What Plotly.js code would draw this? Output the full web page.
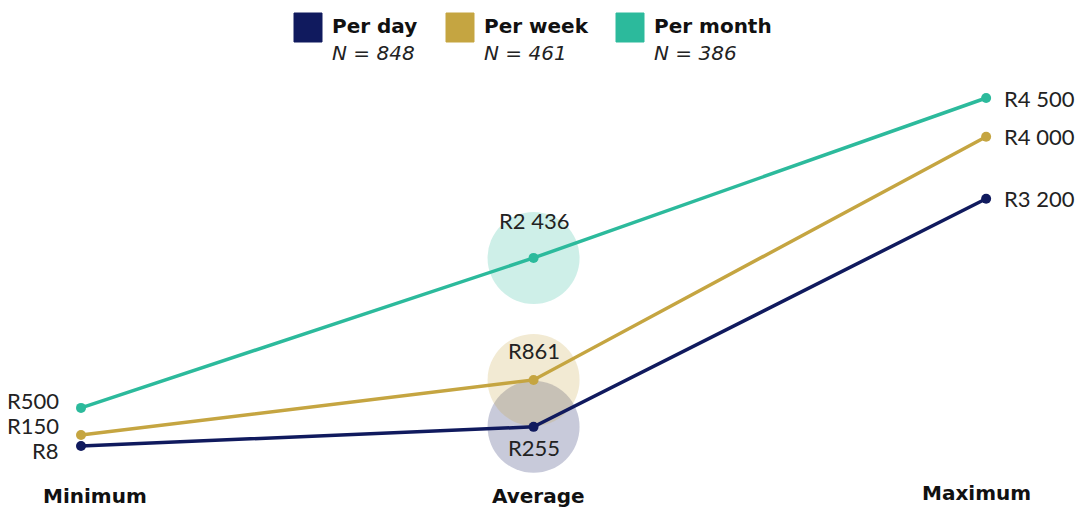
<!DOCTYPE html>
<html>
<head>
<meta charset="utf-8">
<script src="https://cdn.plot.ly/plotly-3.0.1.min.js"></script>
<style>
  html, body { margin: 0; padding: 0; background: #fff; }
  #chart { width: 1078px; height: 510px; }
</style>
</head>
<body>
<div id="chart"></div>
<script>
// Spending amounts (Rand) by frequency of payment
const categories = ['Minimum', 'Average', 'Maximum'];
const seriesNames = ['Per day', 'Per week', 'Per month'];
const sampleSizes = [848, 461, 386];
const perDay = [8, 255, 3200];
const perWeek = [150, 861, 4000];
const perMonth = [500, 2436, 4500];

const seriesValues = [perDay, perWeek, perMonth];
const colors = ['#101A5E', '#C5A541', '#2CBA9C'];
const FONT = 'Century Gothic, "URW Gothic", Lato, sans-serif';
const HEAD_FONT = 'Century Gothic, "DejaVu Sans", sans-serif';
const W = 1078, H = 510;

function rand(v) {
  return 'R' + String(v).replace(/\B(?=(\d{3})+(?!\d))/g, ' ');
}

const traces = [];
// Soft halo behind each average point
seriesValues.forEach((vals, s) => {
  traces.push({
    type: 'scatter', mode: 'markers',
    x: [categories[1]], y: [vals[1]],
    marker: { size: 92, color: colors[s], opacity: 0.23, line: { width: 0 } },
    hoverinfo: 'skip', showlegend: false, cliponaxis: false
  });
});
seriesValues.forEach((vals, s) => {
  traces.push({
    type: 'scatter', mode: 'lines+markers', name: seriesNames[s],
    x: categories, y: vals,
    line: { color: colors[s], width: 3.5 },
    marker: { color: colors[s], size: 10 },
    showlegend: false, cliponaxis: false
  });
});

// Label placement per series/category: [xanchor, xshift, yshift]
const labelPlace = [
  [['right', -20, -4], ['center', 0, -21], ['left', 16, 0]],
  [['right', -20, 10], ['center', 0, 29], ['left', 16, 0]],
  [['right', -20, 7], ['center', 0, 37], ['left', 16, 0]]
];

const annotations = [];
seriesValues.forEach((vals, s) => {
  vals.forEach((v, i) => {
    const p = labelPlace[s][i];
    annotations.push({
      x: categories[i], y: v, xref: 'x', yref: 'y',
      text: rand(v), showarrow: false,
      xanchor: p[0], yanchor: 'middle', xshift: p[1], yshift: p[2],
      font: { family: FONT, size: 22, color: '#222' }
    });
  });
});

// Category names along the bottom
const catPos = [[95, 496], [538, 496], [976, 493]];
categories.forEach((c, i) => {
  annotations.push({
    x: catPos[i][0] / W, y: 1 - catPos[i][1] / H, xref: 'paper', yref: 'paper',
    text: '<b>' + c + '</b>', showarrow: false, xanchor: 'center', yanchor: 'middle',
    font: { family: HEAD_FONT, size: 20, color: '#111' }
  });
});

// Legend: colour square, bold name, italic sample size
const legendX = [294, 446, 616];
const shapes = [];
seriesNames.forEach((n, s) => {
  const x0 = legendX[s];
  shapes.push({
    type: 'rect', xref: 'paper', yref: 'paper',
    x0: x0 / W, x1: (x0 + 28) / W, y0: 1 - 42 / H, y1: 1 - 13 / H,
    fillcolor: colors[s], line: { color: colors[s], width: 1 }
  });
  annotations.push({
    x: (x0 + 36) / W, y: 1 - 26 / H, xref: 'paper', yref: 'paper',
    text: '<b>' + n + '</b>', showarrow: false, xanchor: 'left', yanchor: 'middle',
    font: { family: HEAD_FONT, size: 20, color: '#111' }
  });
  annotations.push({
    x: (x0 + 36) / W, y: 1 - 53 / H, xref: 'paper', yref: 'paper',
    text: '<i>N = ' + sampleSizes[s] + '</i>', showarrow: false, xanchor: 'left', yanchor: 'middle',
    font: { family: HEAD_FONT, size: 20, color: '#222' }
  });
});

const layout = {
  width: W, height: H,
  margin: { l: 0, r: 0, t: 0, b: 0 },
  paper_bgcolor: '#fff', plot_bgcolor: '#fff',
  xaxis: {
    type: 'category', categoryarray: categories, range: [-0.179, 2.203],
    showgrid: false, zeroline: false, showline: false, showticklabels: false, fixedrange: true
  },
  yaxis: {
    range: [-818, 5765], showgrid: false, zeroline: false, showline: false,
    showticklabels: false, fixedrange: true
  },
  showlegend: false,
  annotations: annotations,
  shapes: shapes,
  font: { family: FONT }
};

Plotly.newPlot('chart', traces, layout, { displayModeBar: false, staticPlot: true });
</script>
</body>
</html>
